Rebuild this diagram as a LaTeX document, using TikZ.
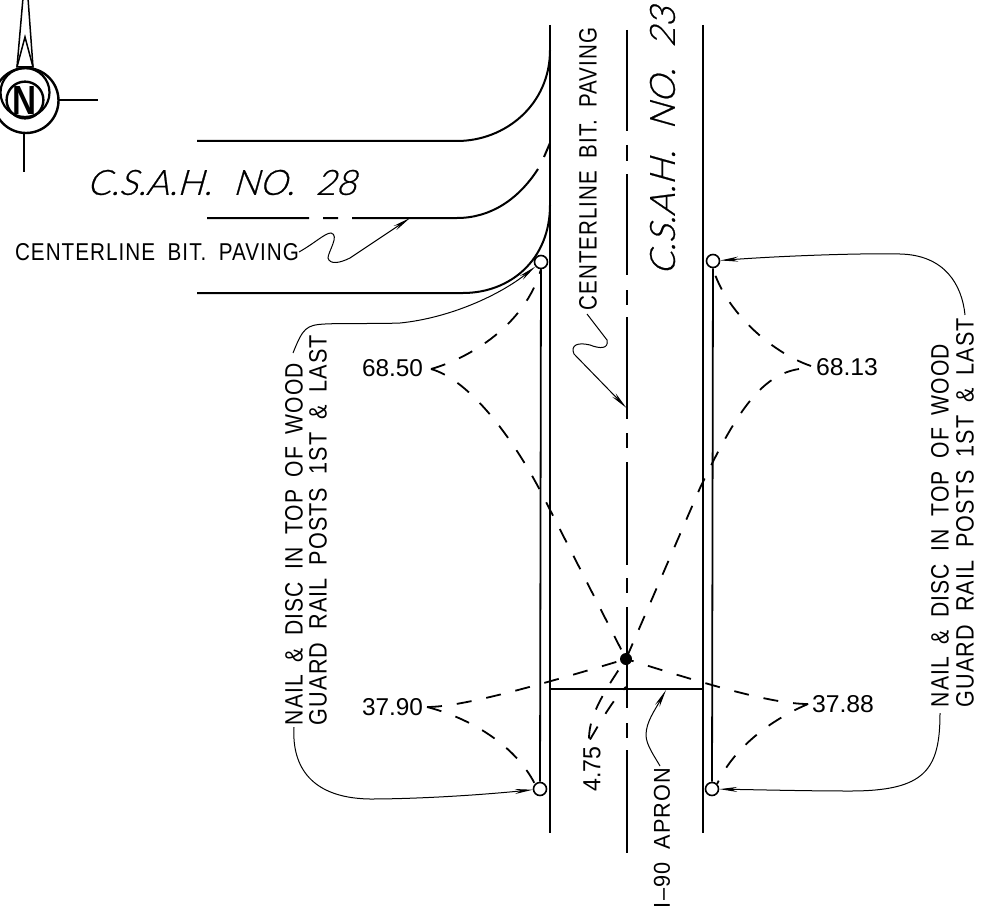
\documentclass[tikz,border=0pt]{standalone}
\usepackage{graphicx}
\usepackage{fontspec}
\setmainfont{Liberation Sans}
\newfontfamily\thinit[FakeSlant=0.28,FakeBold=0.7]{Lato Light}
\usetikzlibrary{arrows.meta}
\newcommand{\fitt}[3]{\resizebox{#1pt}{#2pt}{\addfontfeature{LetterSpace=5}\spaceskip=.6em\relax #3}}
\newcommand{\fitn}[3]{\resizebox{#1pt}{#2pt}{#3}}
\tikzset{
  road/.style={line width=2pt},
  railline/.style={line width=1.8pt},
  dsh/.style={line width=1.8pt,dash pattern=on 15pt off 15pt},
  leader/.style={line width=1pt},
  tip/.style={-{Stealth[length=18pt,width=5pt,inset=6pt]}},
  post/.style={circle,draw,line width=1.6pt,fill=white,minimum size=13pt,inner sep=0pt},
  lbl/.style={inner sep=0pt,outer sep=0pt},
  vlbl/.style={inner sep=0pt,outer sep=0pt,rotate=90},
}
\begin{document}
\begin{tikzpicture}[x=1pt,y=-1pt]
\clip (0,0) rectangle (981,920);
\fill[white] (0,0) rectangle (981,920);
% north arrow
\draw[line width=2.4pt] (26,100.5) circle (32.5);
\draw[line width=2.2pt] (25,92.5) circle (24.5);
\node[circle,draw,line width=2.4pt,minimum size=34pt,inner sep=0pt] (nc) at (25,100) {\fitn{24}{28}{\bfseries N}};
\coordinate (ne) at (98,100);
\coordinate (ns) at (24,172);
\draw[line width=1.2pt] (58.5,100) -- (ne);
\draw[line width=1.2pt] (24,133) -- (ns);
\draw[line width=1.5pt] (17,67) -- (23,-2) (33,67) -- (28,-2);
\draw[line width=1.5pt] (17,67) -- (25,37) -- (33,67) -- cycle;
% roads
\draw[road] (550,25) -- (550,833);
\draw[road] (703,25) -- (703,833);
\draw[road] (197,141) -- (457,141) .. controls (505,141) and (550,105) .. (550,50);
\draw[road] (197,293) -- (463,293) .. controls (510,293) and (550,260) .. (550,205);
% centre lines
\draw[road] (207,218) -- (309,218) (323,218) -- (338,218) (352,218) -- (457,218)
   .. controls (490,218) and (518,200) .. (538,169);
\draw[road] (544,157) -- (550,143);
\draw[road] (626.5,30) -- (626.5,131) (626.5,145) -- (626.5,161) (626.5,174) -- (626.5,275)
  (626.5,290) -- (626.5,305) (626.5,317) -- (626.5,419) (626.5,433) -- (626.5,448)
  (626.5,462) -- (626.5,565) (626.5,578) -- (626.5,593) (626.5,607) -- (626.5,708)
  (626.5,723) -- (626.5,738) (626.5,750) -- (626.5,853);
% apron
\draw[line width=1.6pt] (550,689) -- (703,689);
% rails and posts
\node[post] (pLT) at (541,262) {};
\node[post] (pLB) at (540,789) {};
\node[post] (pRT) at (713,261) {};
\node[post] (pRB) at (712,789) {};
\draw[railline] (pLT) -- (pLB);
\draw[railline] (pRT) -- (pRB);
% labels
\node[lbl] (l28) at (221.5,182.5) {\fitn{269}{25}{\thinit C.S.A.H.\hspace{.6em}NO.\hspace{.6em}28}};
\node[vlbl] (l23) at (662.5,141) {\fitn{268}{25}{\thinit C.S.A.H.\hspace{.6em}NO.\hspace{.6em}23}};
\node[lbl] (cl1) at (157,252) {\fitt{284}{17}{CENTERLINE BIT. PAVING}};
\node[vlbl] (cl2) at (588,169) {\fitt{282}{17.5}{CENTERLINE BIT. PAVING}};
\node[vlbl] (nl1) at (294,544) {\fitt{362}{17.5}{NAIL \& DISC IN TOP OF WOOD}};
\node[vlbl] (nl2) at (318,530) {\fitt{390}{17.5}{GUARD RAIL POSTS 1ST \& LAST}};
\node[vlbl] (nr1) at (940,525.5) {\fitt{363}{17.5}{NAIL \& DISC IN TOP OF WOOD}};
\node[vlbl] (nr2) at (965,512.5) {\fitt{389}{17.5}{GUARD RAIL POSTS 1ST \& LAST}};
\node[lbl] (n6850) at (392.5,368) {\fitn{61}{17}{68.50}};
\node[lbl] (n3790) at (392.5,707) {\fitn{61}{17}{37.90}};
\node[lbl] (n6813) at (847,367) {\fitn{62}{17}{68.13}};
\node[lbl] (n3788) at (843,704) {\fitn{62}{17}{37.88}};
\node[vlbl] (n475) at (592,769) {\fitn{45}{17}{4.75}};
\node[vlbl] (apr) at (662,838) {\fitt{140}{16}{I--90 APRON}};
% survey point
\node[circle,fill=black,minimum size=12pt,inner sep=0pt] (sp) at (626,659) {};
\coordinate (apc) at (626,687);
% dashed ties
\draw[dsh] (n6850.east) ++(8,1) .. controls (470,358) and (525,325) .. (pLT.south);
\draw[dsh] (n6850.east) ++(8,1) .. controls (470,380) and (515,440) .. (545,500) -- (sp.center);
\draw[dsh] (n6813.west) ++(-5,-1) .. controls (770,352) and (725,310) .. (pRT.south);
\draw[dsh] (n6813.west) ++(-17,2) .. controls (760,375) and (735,415) .. (700,488) -- (sp.center);
\draw[dsh] (n3790.east) ++(4,0) .. controls (460,707) and (530,688) .. (sp.center);
\draw[dsh] (n3790.east) ++(4,0) .. controls (470,718) and (515,745) .. (pLB.north west);
\draw[dsh] (n3788.west) ++(-4,0) .. controls (770,704) and (700,682) .. (sp.center);
\draw[dsh] (n3788.west) ++(-4,0) .. controls (775,718) and (735,745) .. (pRB.north east);
\draw[dsh] (n475.east) ++(-3,-8) .. controls (589,715) and (605,690) .. (sp.center);
\draw[dsh] (n475.east) ++(-2,-7) .. controls (597,728) and (612,700) .. (apc);
% leaders
\coordinate (t1) at (410,218);
\coordinate (t2) at (626.5,408);
\coordinate (t3) at (666,690);
\draw[leader,tip] (cl1.east) .. controls (315,243) and (325,233) .. (331,233)
  .. controls (340,235) and (328,252) .. (328,258)
  .. controls (330,265) and (340,263) .. (350,258) -- (t1);
\draw[leader,tip] (cl2.west) ++(-1,4) -- (607,340) .. controls (609,349) and (600,349) .. (590,345)
  .. controls (578,342) and (570,345) .. (574,354) -- (t2);
\draw[leader,tip] (apr.east) ++(-2,-2) .. controls (655,757) and (646,745) .. (646,735)
  .. controls (646,722) and (655,710) .. (t3);
\draw[leader,tip] (nl1.east) ++(-1,-10) .. controls (303,328) and (306,325) .. (325,324)
  .. controls (345,323) and (375,324) .. (400,323)
  .. controls (450,318) and (500,295) .. (pLT);
\draw[leader,tip] (nl1.west) ++(0,2) .. controls (292,760) and (305,798) .. (370,799)
  .. controls (410,799) and (470,796) .. (pLB);
\draw[leader,tip] (nr2.east) ++(0,-3) .. controls (962,285) and (945,255) .. (900,254)
  .. controls (860,253) and (780,256) .. (pRT);
\draw[leader,tip] (nr1.west) ++(0,6) .. controls (940,770) and (925,791) .. (850,791)
  .. controls (810,791) and (770,790) .. (pRB);
\end{tikzpicture}
\end{document}
